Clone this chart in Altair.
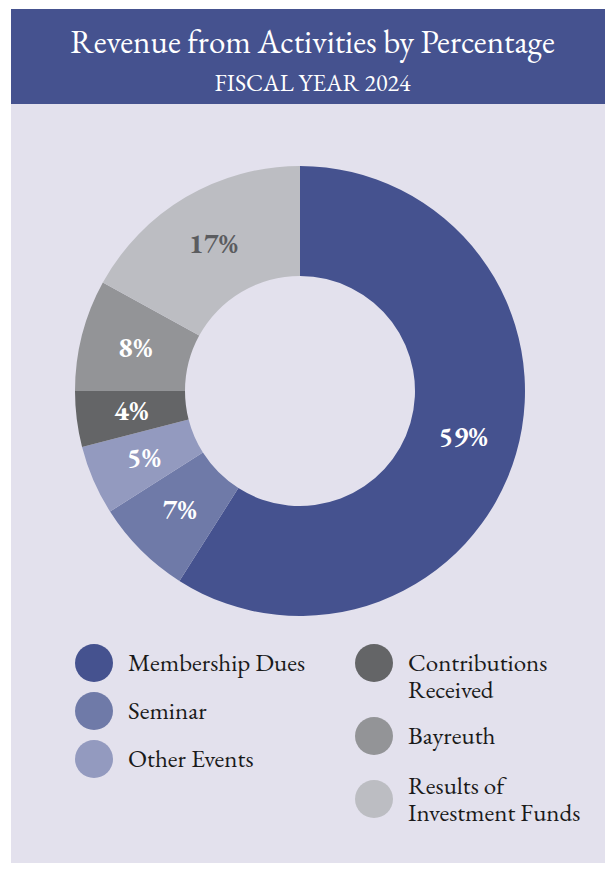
import altair as alt
import pandas as pd

# ---- data ----
categories = ["Membership Dues", "Seminar", "Other Events",
              "Contributions Received", "Bayreuth", "Results of Investment Funds"]
shares = [59, 7, 5, 4, 8, 17]
colors = ["#45528f", "#6f7aa8", "#939abf", "#646567", "#939497", "#bcbdc2"]
left_group = categories[:3]
right_group_a = categories[3:5]
right_group_b = categories[5:]
title_text = "Revenue from Activities by Percentage"
subtitle_text = "FISCAL YEAR 2024"

df = pd.DataFrame({"category": categories, "share": shares,
                   "order": list(range(len(categories)))})
head = pd.DataFrame({"t": [title_text], "s": [subtitle_text]})

# ---- layout / style ----
FONT = "EB Garamond, Garamond, Liberation Serif, serif"
W, H = 594, 854
CX, CY = 289, 382
R_OUT, R_IN, R_LAB = 225, 115, 170
BAND = "#45528f"
BG = "#e3e1ed"

base = alt.Chart(df).transform_window(
    cum="sum(share)", sort=[alt.SortField("order")], frame=[None, 0]
).transform_calculate(
    start="datum.cum - datum.share",
    mid="datum.cum - datum.share / 2",
    label="datum.share + '%'",
)

theta_scale = alt.Scale(domain=[0, 100])


def arcs(group, legend):
    rng = [colors[categories.index(c)] for c in group]
    return base.transform_filter(
        alt.FieldOneOfPredicate(field="category", oneOf=group)
    ).mark_arc(outerRadius=R_OUT, innerRadius=R_IN, strokeWidth=0).encode(
        x=alt.value(CX), y=alt.value(CY),
        theta=alt.Theta("start:Q", scale=theta_scale, stack=False),
        theta2="cum:Q",
        color=alt.Color("category:N", scale=alt.Scale(domain=group, range=rng),
                        legend=legend),
    )


wrap_expr = ("datum.label == 'Contributions Received' ? ['Contributions', 'Received'] : "
             "datum.label == 'Results of Investment Funds' ? ['Results of', 'Investment Funds'] : datum.label")


def legend(x, y, row_pad, baseline="middle"):
    return alt.Legend(orient="none", legendX=x, legendY=y, title=None,
                      labelFont=FONT, labelFontSize=25, labelColor="#1a1a1a",
                      labelBaseline=baseline, labelExpr=wrap_expr,
                      symbolType="circle", symbolSize=1444, symbolStrokeWidth=0,
                      symbolOpacity=1, labelOffset=15, rowPadding=row_pad, padding=0,
                      labelLimit=400)


arcs_left = arcs(left_group, legend(64, 635, 10))
arcs_right_a = arcs(right_group_a, legend(344, 635, 14))
arcs_right_b = arcs(right_group_b, legend(344, 771, 0, "bottom"))

labels = base.mark_text(font=FONT, fontSize=28, fontWeight="bold",
                        align="center", baseline="middle").encode(
    x=alt.value(CX), y=alt.value(CY),
    theta=alt.Theta("mid:Q", scale=theta_scale, stack=False),
    radius=alt.value(R_LAB),
    text="label:N",
    color=alt.condition(alt.datum.category == categories[5],
                        alt.value("#5b5c5f"), alt.value("white")),
)

band = alt.Chart(head).mark_rect(color=BAND).encode(
    x=alt.value(0), x2=alt.value(W), y=alt.value(0), y2=alt.value(95))
title = alt.Chart(head).mark_text(font=FONT, fontSize=33, color="white",
                                  align="center", baseline="alphabetic").encode(
    x=alt.value(301.5), y=alt.value(44), text="t:N")
subtitle = alt.Chart(head).mark_text(font=FONT, fontSize=24, color="white",
                                     align="center", baseline="alphabetic").encode(
    x=alt.value(301.5), y=alt.value(82), text="s:N")

chart = alt.layer(band, title, subtitle, arcs_left, arcs_right_a, arcs_right_b,
                  labels).resolve_scale(
    color="independent"
).properties(
    width=W, height=H,
    autosize=alt.AutoSizeParams(type="none"),
    padding={"left": 3, "top": 1, "right": 0, "bottom": 0},
    background="white",
).configure_view(fill=BG, strokeWidth=0)

chart.save("out.html", embed_options={"renderer": "svg", "actions": False})
